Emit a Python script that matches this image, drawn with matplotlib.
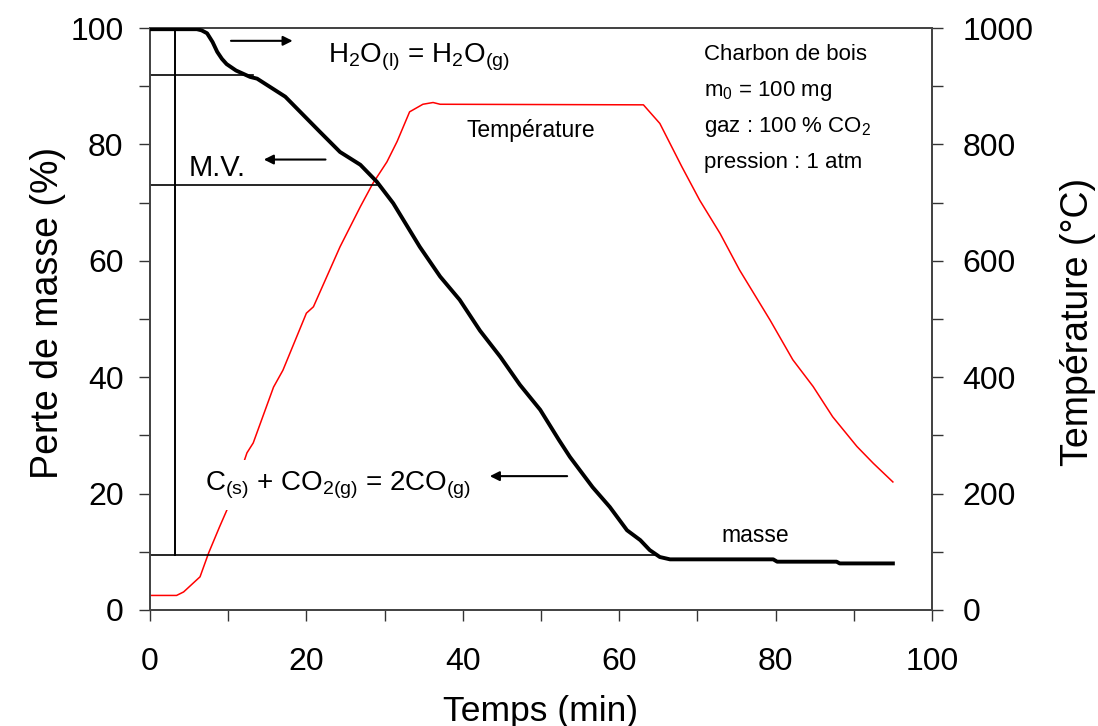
import matplotlib.pyplot as plt
from matplotlib.ticker import MultipleLocator

plt.rcParams['font.family'] = ['Liberation Sans', 'DejaVu Sans']
plt.rcParams['mathtext.default'] = 'regular'

# mass curve (%)
t_mass = [0, 3, 6, 6.6, 7.3, 8.0, 8.6, 9.2, 9.8, 11.0, 12.8, 13.7, 17.3, 21.7, 24.3,
          26.9, 29.0, 31.1, 34.5, 37.1, 39.6, 42.2, 44.8, 47.3, 49.9, 52.3, 53.7,
          56.6, 58.8, 61.0, 62.7, 63.9, 65.2, 66.5, 79.7, 80.2, 87.8, 88.2, 95]
mass = [99.8, 99.8, 99.8, 99.6, 99.1, 97.6, 95.9, 94.7, 93.8, 92.7, 91.6, 91.3, 88.2,
        82.2, 78.7, 76.5, 73.6, 69.9, 62.4, 57.3, 53.3, 48.0, 43.5, 38.7, 34.4,
        29.2, 26.3, 21.1, 17.7, 13.7, 12.0, 10.3, 9.1, 8.7, 8.7, 8.3, 8.3, 8.0, 8.0]

# temperature (deg C)
t_temp = [0, 3.4, 4.3, 6.4, 7.5, 8.9, 10.2, 12.4, 13.2, 15.8, 17.0, 20.0, 20.9, 24.3,
          26.9, 28.5, 30.3, 31.6, 33.2, 34.9, 36.2, 37.1, 63.1, 65.2, 68.0, 70.3,
          72.9, 75.4, 79.3, 82.2, 84.8, 87.3, 90.4, 92.5, 95]
temp = [25, 25, 31, 57, 98, 143, 183, 270, 287, 383, 412, 510, 521, 624,
        693, 733, 770, 805, 856, 869, 872, 869, 868, 836, 762, 704,
        647, 584, 498, 430, 384, 332, 281, 252, 220]

# guide lines (mass levels and time mark)
lvl_water = 91.9
lvl_mv = 73.0
lvl_ash = 9.4
t_mark = 3.2

fig = plt.figure(figsize=(10.98, 7.26), dpi=100)
ax = fig.add_axes([0.1366, 0.1598, 0.7122, 0.8016])
ax2 = ax.twinx()

ax2.plot(t_temp, temp, color='#ff0000', lw=1.1)
ax.plot(t_mass, mass, color='black', lw=2.8, zorder=5)
ax.set_zorder(ax2.get_zorder() + 1)
ax.patch.set_visible(False)

ax.plot([0, 13.2], [lvl_water, lvl_water], color='black', lw=1.2)
ax.plot([0, 29.0], [lvl_mv, lvl_mv], color='black', lw=1.2)
ax.plot([0, 65.0], [lvl_ash, lvl_ash], color='black', lw=1.2)
ax.plot([t_mark, t_mark], [lvl_ash, 100], color='black', lw=1.4)

arr = dict(arrowstyle='-|>', color='black', lw=1.5, mutation_scale=14)
ax.annotate('', xy=(18.6, 97.8), xytext=(10.0, 97.8), arrowprops=arr)
ax.annotate('', xy=(14.2, 77.4), xytext=(22.8, 77.4), arrowprops=arr)
ax.annotate('', xy=(43.1, 23.0), xytext=(53.7, 23.0), arrowprops=arr)

ax.text(22.8, 94.0, r'$H_2O_{(l)}$ = $H_2O_{(g)}$', fontsize=20, va='baseline')
ax.text(4.9, 74.5, 'M.V.', fontsize=21, va='baseline')
ax.text(7.0, 20.6, r'$C_{(s)}$ + $CO_{2(g)}$ = 2$CO_{(g)}$', fontsize=20, va='baseline',
        bbox=dict(facecolor='white', edgecolor='none', pad=7))
ax.text(48.7, 81.3, 'Température', fontsize=16.5, ha='center', va='baseline')
ax.text(77.4, 11.7, 'masse', fontsize=16.5, ha='center', va='baseline')

info = ['Charbon de bois', r'$m_0$ = 100 mg', r'gaz : 100 % $CO_2$', 'pression : 1 atm']
for i, line in enumerate(info):
    ax.text(70.8, 94.5 - i * 6.2, line, fontsize=16, va='baseline')

ax.set_xlim(0, 100)
ax.set_ylim(0, 100)
ax2.set_ylim(0, 1000)
ax.xaxis.set_major_locator(MultipleLocator(20))
ax.xaxis.set_minor_locator(MultipleLocator(10))
ax.yaxis.set_major_locator(MultipleLocator(20))
ax.yaxis.set_minor_locator(MultipleLocator(10))
ax2.yaxis.set_major_locator(MultipleLocator(200))
ax2.yaxis.set_minor_locator(MultipleLocator(100))

for a in (ax, ax2):
    a.tick_params(which='both', direction='out', length=8, width=1, labelsize=23, color='#333333')
    for s in a.spines.values():
        s.set_color('#444444')
        s.set_linewidth(1.3)
ax.tick_params(axis='x', pad=19)
ax.tick_params(axis='y', pad=11)
ax2.tick_params(axis='y', pad=14)

ax.set_xlabel('Temps (min)', fontsize=25.5)
ax.set_ylabel('Perte de masse (%)', fontsize=27)
ax2.set_ylabel('Température (°C)', fontsize=27)
ax.xaxis.set_label_coords(0.5, -0.146)
ax.yaxis.set_label_coords(-0.108, 0.51)
ax2.yaxis.set_label_coords(1.164, 0.495)

fig.savefig('out.png', dpi=100)
